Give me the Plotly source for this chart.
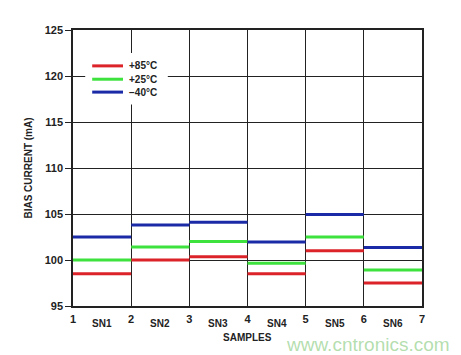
import plotly.graph_objects as go

samples = ["SN1", "SN2", "SN3", "SN4", "SN5", "SN6"]
edges = [1, 2, 3, 4, 5, 6, 7]
temps = ["+85°C", "+25°C", "\u221240°C"]
vals_85 = [98.5, 100.0, 100.35, 98.5, 101.0, 97.5]
vals_25 = [100.0, 101.4, 102.0, 99.65, 102.5, 98.9]
vals_m40 = [102.5, 103.8, 104.1, 101.95, 104.95, 101.35]
colors = ["#dc2329", "#3de23d", "#1b2aa6"]
ytick_vals = [95, 100, 105, 110, 115, 120, 125]

fig = go.Figure()
for name, vals, col in zip(temps, [vals_85, vals_25, vals_m40], colors):
    xs, ys = [], []
    for i, v in enumerate(vals):
        xs += [edges[i], edges[i + 1], None]
        ys += [v, v, None]
    fig.add_trace(go.Scatter(x=xs, y=ys, mode="lines", name=name,
                             line=dict(color=col, width=3), connectgaps=False,
                             showlegend=False))

font_b = "Liberation Sans, Arial, sans-serif"

# legend (box + sample lines + labels)
fig.add_shape(type="rect", xref="x", yref="y", x0=1.21, x1=2.63, y0=116.9, y1=122.5,
              fillcolor="white", line=dict(width=0), layer="above")
leg_y = [121.1, 119.65, 118.25]
for name, col, ly in zip(temps, colors, leg_y):
    fig.add_shape(type="line", xref="x", yref="y", x0=1.33, x1=1.86, y0=ly, y1=ly,
                  line=dict(color=col, width=3), layer="above")
    fig.add_annotation(x=1.92, y=ly, xref="x", yref="y", xanchor="left", yanchor="middle",
                       text="<b>%s</b>" % name, showarrow=False,
                       font=dict(family=font_b, size=10, color="#222"))

for i, s in enumerate(samples):
    fig.add_annotation(x=(edges[i] + edges[i + 1]) / 2, y=0, xref="x", yref="paper",
                       yshift=-10, yanchor="top", text="<b>%s</b>" % s, showarrow=False,
                       font=dict(family=font_b, size=10, color="#222"))
fig.add_annotation(x=0.5, y=0, xref="paper", yref="paper", yshift=-24, yanchor="top",
                   text="<b>SAMPLES</b>", showarrow=False,
                   font=dict(family=font_b, size=10, color="#222"))
fig.add_annotation(x=1.0, y=0, xref="paper", yref="paper", xshift=30, yshift=-26,
                   xanchor="right", yanchor="top", text="www.cntronics.com",
                   showarrow=False, font=dict(family="Liberation Sans, Arial", size=19,
                                              color="rgba(130,200,120,0.6)"))

fig.update_layout(
    width=461, height=355,
    margin=dict(l=73, r=39, t=30, b=49),
    paper_bgcolor="white", plot_bgcolor="white",
    font=dict(family=font_b, size=11, color="#222"),
    showlegend=False,
    xaxis=dict(range=[1, 7], tickvals=edges, ticktext=["<b>%d</b>" % e for e in edges],
               showgrid=True, gridcolor="#222", gridwidth=1.3, zeroline=False,
               showline=True, linecolor="#222", linewidth=1.5, mirror=True,
               ticks="", ticklabelstandoff=2),
    yaxis=dict(range=[95, 125], tickvals=ytick_vals,
               ticktext=["<b>%d</b>" % v for v in ytick_vals],
               showgrid=True, gridcolor="#222", gridwidth=1.3, zeroline=False,
               showline=True, linecolor="#222", linewidth=1.5, mirror=True,
               ticks="outside", ticklen=6, tickcolor="#222",
               title=dict(text="<b>BIAS CURRENT (mA)</b>", standoff=10,
                          font=dict(family=font_b, size=10))),
)

fig.write_html("out.html")
